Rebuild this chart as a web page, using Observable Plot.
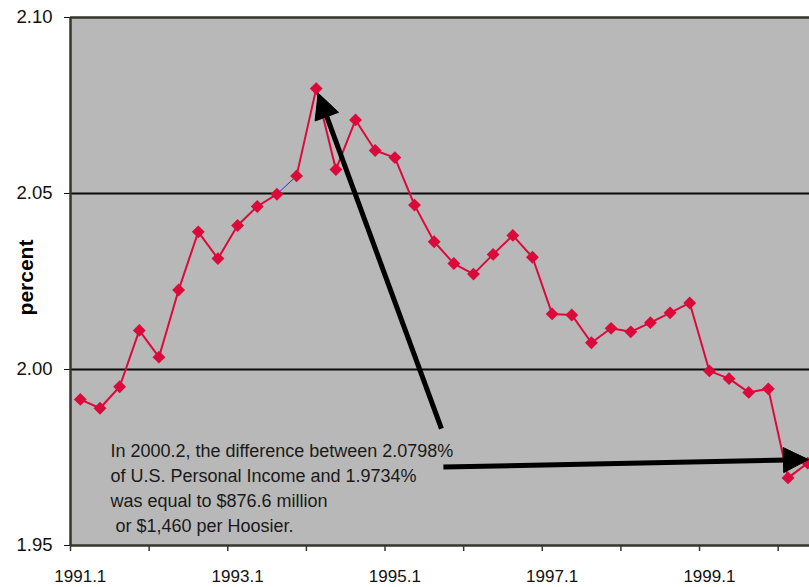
<!DOCTYPE html>
<html>
<head>
<meta charset="utf-8">
<script src="https://cdn.jsdelivr.net/npm/d3@7"></script>
<script src="https://cdn.jsdelivr.net/npm/@observablehq/plot@0.6"></script>
<style>
  html, body { margin: 0; padding: 0; background: white; overflow: hidden; }
  #chart { width: 809px; height: 587px; overflow: hidden; }
</style>
</head>
<body>
<div id="chart"></div>
<script>
// ---- data ----
const quarters = [
  "1991.1","1991.2","1991.3","1991.4",
  "1992.1","1992.2","1992.3","1992.4",
  "1993.1","1993.2","1993.3","1993.4",
  "1994.1","1994.2","1994.3","1994.4",
  "1995.1","1995.2","1995.3","1995.4",
  "1996.1","1996.2","1996.3","1996.4",
  "1997.1","1997.2","1997.3","1997.4",
  "1998.1","1998.2","1998.3","1998.4",
  "1999.1","1999.2","1999.3","1999.4",
  "2000.1","2000.2"
];
const values = [
  1.9915, 1.9890, 1.9951, 2.0111,
  2.0035, 2.0226, 2.0391, 2.0315,
  2.0409, 2.0463, 2.0498, 2.0550,
  2.0798, 2.0568, 2.0709, 2.0622,
  2.0602, 2.0467, 2.0363, 2.0301,
  2.0271, 2.0327, 2.0381, 2.0319,
  2.0158, 2.0155, 2.0076, 2.0117,
  2.0107, 2.0133, 2.0161, 2.0189,
  1.9996, 1.9974, 1.9935, 1.9945,
  1.9692, 1.9734
];
const xTickLabels = ["1991.1", "1993.1", "1995.1", "1997.1", "1999.1"];
const yTicks = [1.95, 2.00, 2.05, 2.10];
const yLabel = "percent";
const noteLines = [
  "In 2000.2, the difference between 2.0798%",
  "of U.S. Personal Income and 1.9734%",
  "was equal to $876.6 million",
  " or $1,460 per Hoosier."
];
// note anchor (in data units: quarter index, percent)
const noteAnchor = [{x: 1.53, y: 1.9801}];
// arrows: tail -> tip (quarter index, percent)
const arrowTails = [{x: 18.37, y: 1.9832}, {x: 18.47, y: 1.9723}];
const arrowTips  = [{x: 12.10, y: 2.0785}, {x: 37.04, y: 1.9744}];

// ---- derived ----
const red = "#dc0a3a";
const axisColor = "#36362e";
const data = quarters.map((q, i) => ({i, q, v: values[i]}));
const labelData = xTickLabels.map(q => ({q, i: quarters.indexOf(q)}));
const tickBounds = d3.range(0, quarters.length, 4).map(i => i - 0.5);

const xDomain = [-0.5, quarters.length - 0.5];
const xRange = [70, 817];
const yDomain = [1.95, 2.10];
const yRange = [545, 17];
const xs = d3.scaleLinear(xDomain, xRange);
const ys = d3.scaleLinear(yDomain, yRange);

const headLen = 25, headHalf = 12.5;
const shafts = [];
const heads = [];
arrowTails.forEach((t, k) => {
  const tip = arrowTips[k];
  const px1 = xs(t.x), py1 = ys(t.y), px2 = xs(tip.x), py2 = ys(tip.y);
  const ang = Math.atan2(py2 - py1, px2 - px1);
  const ux = Math.cos(ang), uy = Math.sin(ang);
  const bx = px2 - headLen * ux, by = py2 - headLen * uy;
  shafts.push({x1: t.x, y1: t.y, x2: xs.invert(bx + 3 * ux), y2: ys.invert(by + 3 * uy)});
  const pts = [
    [px2, py2],
    [bx - headHalf * uy, by + headHalf * ux],
    [bx + headHalf * uy, by - headHalf * ux],
    [px2, py2]
  ];
  pts.forEach(([px, py]) => heads.push({id: k, x: xs.invert(px), y: ys.invert(py)}));
});

const chart = Plot.plot({
  width: 809,
  height: 587,
  marginLeft: 70,
  marginRight: 0,
  marginTop: 17,
  marginBottom: 42,
  style: {
    fontFamily: "'Liberation Sans', Arial, sans-serif",
    fontSize: "18.5px",
    background: "white",
    color: "#111"
  },
  x: {domain: xDomain, range: xRange, axis: null},
  y: {
    domain: yDomain, range: yRange,
    ticks: yTicks, tickFormat: d3.format(".2f"),
    tickSize: 6, tickPadding: 12, label: null
  },
  marks: [
    Plot.frame({fill: "#b8b8b8", stroke: "none"}),
    Plot.ruleY([2.00, 2.05], {stroke: "#0a0a0a", strokeWidth: 2}),
    Plot.ruleY([1.95, 2.10], {stroke: axisColor, strokeWidth: 2.5}),
    Plot.ruleX([-0.5], {stroke: axisColor, strokeWidth: 2.5}),
    Plot.ruleX(tickBounds, {y1: 1.95, y2: 1.95, insetBottom: -6, stroke: axisColor, strokeWidth: 1.5}),
    Plot.text(labelData, {x: "i", y: 1.95, text: "q", dy: 31, fontSize: 17, fill: "#111"}),
    Plot.text([yLabel], {
      frameAnchor: "left", textAnchor: "middle", lineAnchor: "middle",
      dx: -44, dy: -4, rotate: -90, fontWeight: "bold", fontSize: 21, fill: "#000"
    }),
    Plot.line(data, {x: "i", y: "v", z: d => (d.i <= 10 ? "a" : "b"), stroke: red, strokeWidth: 2}),
    Plot.line(data.slice(10, 12), {x: "i", y: "v", stroke: "#2233ff", strokeWidth: 1}),
    Plot.dot(data, {x: "i", y: "v", symbol: "diamond2", r: 5.8, fill: red, stroke: "none"}),
    Plot.text(noteAnchor, {
      x: "x", y: "y", text: () => noteLines.join("\n"),
      textAnchor: "start", lineAnchor: "top", lineHeight: 1.39,
      fontSize: 18, fill: "#1a1a1a"
    }),
    Plot.link(shafts, {x1: "x1", y1: "y1", x2: "x2", y2: "y2", stroke: "#000", strokeWidth: 5}),
    Plot.line(heads, {x: "x", y: "y", z: "id", fill: "#000", stroke: "#000", strokeWidth: 1})
  ]
});
document.getElementById("chart").appendChild(chart);
</script>
</body>
</html>
